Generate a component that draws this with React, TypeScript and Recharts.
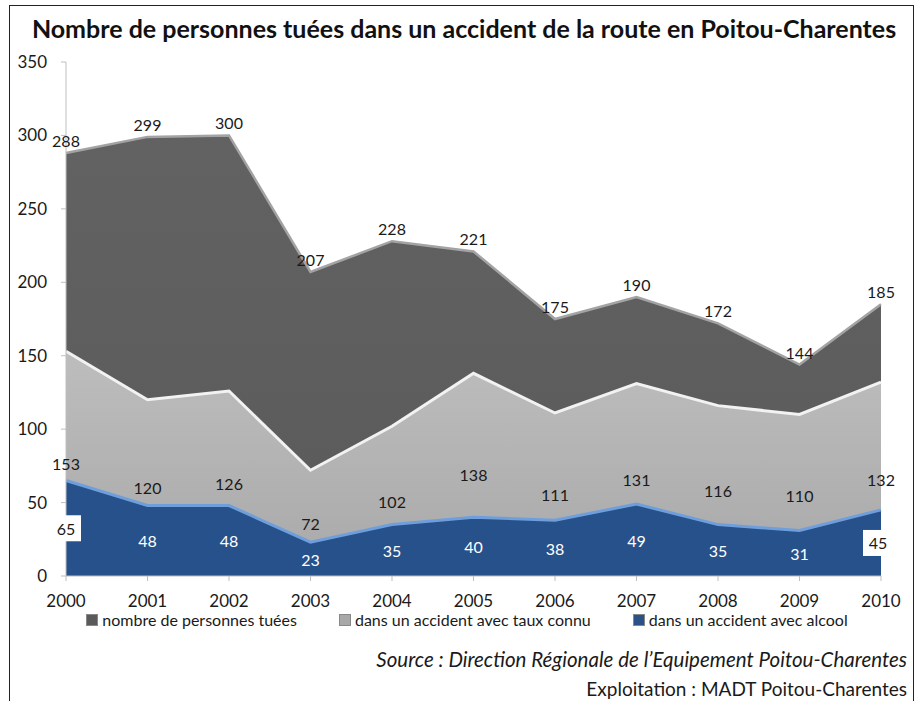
import React from "react";
import { ComposedChart, Area, XAxis, YAxis, LabelList } from "recharts";

const years = ["2000", "2001", "2002", "2003", "2004", "2005", "2006", "2007", "2008", "2009", "2010"];
const tues = [288, 299, 300, 207, 228, 221, 175, 190, 172, 144, 185];
const tauxConnu = [153, 120, 126, 72, 102, 138, 111, 131, 116, 110, 132];
const alcool = [65, 48, 48, 23, 35, 40, 38, 49, 35, 31, 45];
const yTicks = [0, 50, 100, 150, 200, 250, 300, 350];

const seriesNames = {
  tues: "nombre de personnes tuées",
  taux: "dans un accident avec taux connu",
  alcool: "dans un accident avec alcool",
};

const data = years.map((y, i) => ({ year: y, tues: tues[i], taux: tauxConnu[i], alcool: alcool[i] }));

const CW = 918;
const CH = 701;
const M = { top: 62, right: 37, left: 0, bottom: 95 };
const XH = 30;
const YW = 66;
const BASE_Y = CH - M.bottom - XH;
const FONT = "Lato, 'Open Sans', sans-serif";
const TEXT = "#1a1a1a";

const midLabel = (color: string, boxedEdges: boolean) => (props: any) => {
  const { x, y, value, index } = props;
  if (x == null || y == null) return null;
  const my = (Number(y) + BASE_Y) / 2;
  const edge = boxedEdges && (index === 0 || index === years.length - 1);
  const cx = index === years.length - 1 && edge ? Number(x) - 3 : Number(x);
  return (
    <g>
      {edge && <rect x={cx - 15} y={my - 13} width={30} height={26} fill="#ffffff" />}
      <text
        x={cx}
        y={my}
        textAnchor="middle"
        dominantBaseline="central"
        fontSize={16}
        fontFamily={FONT}
        fill={edge ? TEXT : color}
      >
        {value}
      </text>
    </g>
  );
};

const legendItems = [
  { name: seriesNames.tues, color: "#5a5a5a" },
  { name: seriesNames.taux, color: "#a8a8a8" },
  { name: seriesNames.alcool, color: "#2a5288" },
];

export default function App() {
  return (
    <div style={{ position: "absolute", left: 0, top: 0, width: CW, height: CH, background: "#fff", fontFamily: FONT }}>
      <div
        style={{
          position: "absolute",
          left: 9,
          top: 5,
          width: 905,
          height: 710,
          borderTop: "1.5px solid #222",
          borderLeft: "1.5px solid #222",
          borderRight: "1.5px solid #222",
          boxSizing: "border-box",
        }}
      />
      <div
        style={{
          position: "absolute",
          left: 0,
          top: 13,
          width: 928,
          textAlign: "center",
          fontSize: 25,
          fontWeight: 700,
          color: "#111",
          whiteSpace: "nowrap",
        }}
      >
        Nombre de personnes tuées dans un accident de la route en Poitou-Charentes
      </div>
      <div style={{ position: "absolute", left: 0, top: 0 }}>
        <ComposedChart width={CW} height={CH} data={data} margin={M}>
          <defs>
            <linearGradient id="gTaux" x1="0" y1="0" x2="0" y2="1">
              <stop offset="0%" stopColor="#bdbdbd" />
              <stop offset="100%" stopColor="#a9a9a9" />
            </linearGradient>
            <linearGradient id="gTues" x1="0" y1="0" x2="0" y2="1">
              <stop offset="0%" stopColor="#626262" />
              <stop offset="100%" stopColor="#5a5a5a" />
            </linearGradient>
          </defs>
          <XAxis
            dataKey="year"
            height={XH}
            tick={{ fill: TEXT, fontSize: 17, fontFamily: FONT }}
            tickSize={5}
            tickMargin={14}
            axisLine={{ stroke: "#bfbfbf" }}
            tickLine={{ stroke: "#bfbfbf" }}
          />
          <YAxis
            width={YW}
            domain={[0, 350]}
            ticks={yTicks}
            interval={0}
            tick={{ fill: TEXT, fontSize: 17, fontFamily: FONT }}
            tickSize={5}
            tickMargin={14}
            axisLine={{ stroke: "#bfbfbf" }}
            tickLine={{ stroke: "#bfbfbf" }}
          />
          <Area
            type="linear"
            dataKey="tues"
            name={seriesNames.tues}
            fill="url(#gTues)"
            fillOpacity={1}
            stroke="#a3a3a3"
            strokeWidth={2.5}
            isAnimationActive={false}
          >
            <LabelList dataKey="tues" position="top" offset={6} fill={TEXT} fontSize={16} fontFamily={FONT} />
          </Area>
          <Area
            type="linear"
            dataKey="taux"
            name={seriesNames.taux}
            fill="url(#gTaux)"
            fillOpacity={1}
            stroke="#f2f2f2"
            strokeWidth={3}
            isAnimationActive={false}
          >
            <LabelList dataKey="taux" content={midLabel(TEXT, false)} />
          </Area>
          <Area
            type="linear"
            dataKey="alcool"
            name={seriesNames.alcool}
            fill="#27518a"
            fillOpacity={1}
            stroke="#6e9fdc"
            strokeWidth={3}
            isAnimationActive={false}
          >
            <LabelList dataKey="alcool" content={midLabel("#ffffff", true)} />
          </Area>
        </ComposedChart>
      </div>
      <div
        style={{
          position: "absolute",
          left: 0,
          top: 610,
          width: 934,
          display: "flex",
          justifyContent: "center",
          gap: 42,
          fontSize: 16,
          color: TEXT,
          whiteSpace: "nowrap",
        }}
      >
        {legendItems.map((it) => (
          <div key={it.name} style={{ display: "flex", alignItems: "center" }}>
            <span
              style={{
                display: "inline-block",
                width: 10,
                height: 10,
                background: it.color,
                border: "1px solid #888",
                marginRight: 4,
              }}
            />
            <span>{it.name}</span>
          </div>
        ))}
      </div>
      <div
        style={{
          position: "absolute",
          right: 11,
          top: 647,
          fontSize: 20.5,
          fontStyle: "italic",
          color: TEXT,
          whiteSpace: "nowrap",
        }}
      >
        Source : Direction Régionale de l’Equipement Poitou-Charentes
      </div>
      <div
        style={{
          position: "absolute",
          right: 11,
          top: 677,
          fontSize: 19,
          color: TEXT,
          whiteSpace: "nowrap",
        }}
      >
        Exploitation : MADT Poitou-Charentes
      </div>
    </div>
  );
}
